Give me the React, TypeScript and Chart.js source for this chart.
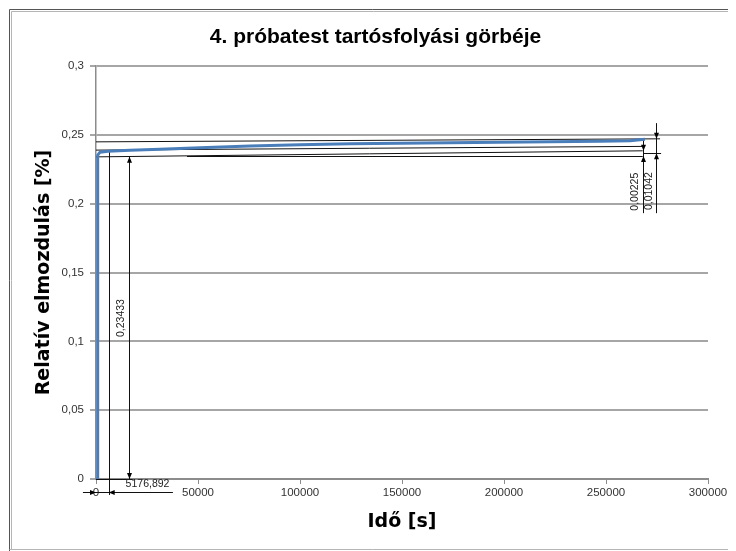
import React, { useEffect, useRef } from 'react';
import { Chart, registerables } from 'chart.js';

Chart.register(...registerables);

// ---- data ----
const chartTitle = '4. próbatest tartósfolyási görbéje';
const xAxisTitle = 'Idő [s]';
const yAxisTitle = 'Relatív elmozdulás [%]';

const timeSeconds = [830, 830, 1960, 5880, 16670, 31370, 50980, 75490, 100000, 124500, 149000, 173500, 198000, 222500, 247000, 261800, 269100];
const relativeDisplacement = [0, 0.2352, 0.2374, 0.2381, 0.2388, 0.2396, 0.2407, 0.2418, 0.2428, 0.2436, 0.2439, 0.2443, 0.2447, 0.245, 0.2454, 0.2457, 0.2468];

const xMin = 0;
const xMax = 300000;
const xStep = 50000;
const yMin = 0;
const yMax = 0.3;
const yStep = 0.05;

// dimension drawing (values in data units): [x1, y1, x2, y2]
const guideLines: number[][] = [
  [0, 0.2449, 276500, 0.2471],
  [0, 0.2389, 268000, 0.2416],
  [0, 0.234, 268000, 0.2384],
  [44600, 0.2347, 268000, 0.2347],
  [268500, 0.2367, 277000, 0.2367],
  [0, 0, 18000, 0],
  [6230, 0.2389, 6230, -0.0116],
  [268100, 0.2461, 268100, 0.1931],
  [274400, 0.2585, 274400, 0.1931],
  [-6400, -0.0094, 37700, -0.0094],
  [16180, 0.234, 16180, 0],
];
// arrow tips: [x, y, direction]
const arrowTips: [number, number, string][] = [
  [16180, 0.234, 'up'],
  [16180, 0, 'down'],
  [0, -0.0094, 'right'],
  [6230, -0.0094, 'left'],
  [268100, 0.2384, 'down'],
  [268100, 0.2347, 'up'],
  [274400, 0.2471, 'down'],
  [274400, 0.2367, 'up'],
];
const dimensionLabels = ['0,23433', '5176,892', '0,00225', '0,01042'];
const dimensionLabelX = [12500, 25250, 264460, 271080];
const dimensionLabelY = [0.1169, -0.0039, 0.2087, 0.2091];
const dimensionLabelRotated = [true, false, true, true];

const fmt = (v: number) => String(Math.round(v * 1000) / 1000).replace('.', ',');

const dimensionPlugin = {
  id: 'dimensionPlugin',
  beforeDatasetsDraw(chart: any) {
    const { ctx, scales } = chart;
    const px = (v: number) => scales.x.getPixelForValue(v);
    const py = (v: number) => scales.y.getPixelForValue(v);
    ctx.save();
    ctx.strokeStyle = '#111';
    ctx.lineWidth = 1;
    for (const [x1, y1, x2, y2] of guideLines) {
      let ax = px(x1), ay = py(y1), bx = px(x2), by = py(y2);
      if (x1 === x2) { ax = bx = Math.round(ax) + 0.5; }
      if (y1 === y2) { ay = by = Math.round(ay) + 0.5; }
      ctx.beginPath();
      ctx.moveTo(ax, ay);
      ctx.lineTo(bx, by);
      ctx.stroke();
    }
    ctx.fillStyle = '#000';
    const L = 6, W = 2.5;
    for (const [xv, yv, dir] of arrowTips) {
      let tx = px(xv), ty = py(yv);
      if (dir === 'up' || dir === 'down') tx = Math.round(tx) + 0.5;
      else ty = Math.round(ty) + 0.5;
      ctx.beginPath();
      ctx.moveTo(tx, ty);
      if (dir === 'up') { ctx.lineTo(tx - W, ty + L); ctx.lineTo(tx + W, ty + L); }
      if (dir === 'down') { ctx.lineTo(tx - W, ty - L); ctx.lineTo(tx + W, ty - L); }
      if (dir === 'right') { ctx.lineTo(tx - L, ty - W); ctx.lineTo(tx - L, ty + W); }
      if (dir === 'left') { ctx.lineTo(tx + L, ty - W); ctx.lineTo(tx + L, ty + W); }
      ctx.closePath();
      ctx.fill();
    }
    ctx.fillStyle = '#222';
    ctx.font = '10.5px "Liberation Sans", Arial, sans-serif';
    ctx.textAlign = 'center';
    ctx.textBaseline = 'middle';
    dimensionLabels.forEach((label, i) => {
      ctx.save();
      ctx.translate(px(dimensionLabelX[i]), py(dimensionLabelY[i]));
      if (dimensionLabelRotated[i]) ctx.rotate(-Math.PI / 2);
      ctx.fillText(label, 0, 0);
      ctx.restore();
    });
    ctx.restore();
  },
  afterDraw(chart: any) {
    const { ctx, width, height } = chart;
    ctx.save();
    ctx.fillStyle = '#000';
    ctx.font = 'bold 21px "Liberation Sans", Arial, sans-serif';
    ctx.textAlign = 'center';
    ctx.textBaseline = 'middle';
    ctx.fillText(chartTitle, 367.5, 29);
    ctx.lineWidth = 1;
    ctx.strokeStyle = '#555';
    ctx.beginPath();
    ctx.moveTo(1.5, height);
    ctx.lineTo(1.5, 1.5);
    ctx.lineTo(width, 1.5);
    ctx.stroke();
    ctx.strokeStyle = '#b5b5b5';
    ctx.beginPath();
    ctx.moveTo(3.5, height - 2);
    ctx.lineTo(3.5, 3.5);
    ctx.lineTo(width, 3.5);
    ctx.stroke();
    ctx.beginPath();
    ctx.moveTo(1.5, height - 1.5);
    ctx.lineTo(width, height - 1.5);
    ctx.stroke();
    ctx.restore();
  },
};

export default function App() {
  const ref = useRef<HTMLCanvasElement>(null);
  useEffect(() => {
    const canvas = ref.current;
    if (!canvas) return;
    const points = timeSeconds.map((t, i) => ({ x: t, y: relativeDisplacement[i] }));
    const chart = new Chart(canvas, {
      type: 'line',
      data: {
        datasets: [
          {
            data: points,
            borderColor: '#4a7ebb',
            borderWidth: 3,
            pointRadius: 0,
            tension: 0,
            borderJoinStyle: 'round',
            fill: false,
          },
        ],
      },
      options: {
        responsive: false,
        animation: false,
        layout: { padding: { top: 58, right: 28, left: 0, bottom: 0 } },
        plugins: {
          legend: { display: false },
          title: { display: false },
          tooltip: { enabled: false },
        },
        scales: {
          x: {
            type: 'linear',
            min: xMin,
            max: xMax,
            afterFit: (s: any) => { s.height = 72; },
            ticks: {
              stepSize: xStep,
              callback: (v: any) => String(v),
              color: '#333',
              font: { family: '"Liberation Sans", Arial, sans-serif', size: 11.5 },
              padding: 2,
              maxRotation: 0,
            },
            grid: { drawOnChartArea: false, drawTicks: true, tickLength: 5, color: '#8c8c8c', lineWidth: 1 },
            border: { color: '#8c8c8c', width: 2 },
            title: {
              display: true,
              text: xAxisTitle,
              color: '#000',
              font: { family: '"DejaVu Sans", sans-serif', size: 19, weight: 'bold' },
              padding: { top: 0, bottom: 17.6 },
            },
          },
          y: {
            type: 'linear',
            min: yMin,
            max: yMax,
            afterFit: (s: any) => { s.width = 88; },
            ticks: {
              stepSize: yStep,
              callback: (v: any) => fmt(Number(v)),
              color: '#333',
              font: { family: '"Liberation Sans", Arial, sans-serif', size: 11.5 },
              padding: 6,
            },
            grid: { color: '#a6a6a6', lineWidth: 2, tickLength: 6 },
            border: { color: '#8c8c8c', width: 1.5 },
            title: {
              display: true,
              text: yAxisTitle,
              color: '#000',
              font: { family: '"DejaVu Sans", sans-serif', size: 19, weight: 'bold' },
              padding: { top: 24.6, bottom: 0 },
            },
          },
        },
      },
      plugins: [dimensionPlugin],
    } as any);
    return () => chart.destroy();
  }, []);
  return <canvas ref={ref} width={728} height={543} style={{ display: 'block' }} />;
}
